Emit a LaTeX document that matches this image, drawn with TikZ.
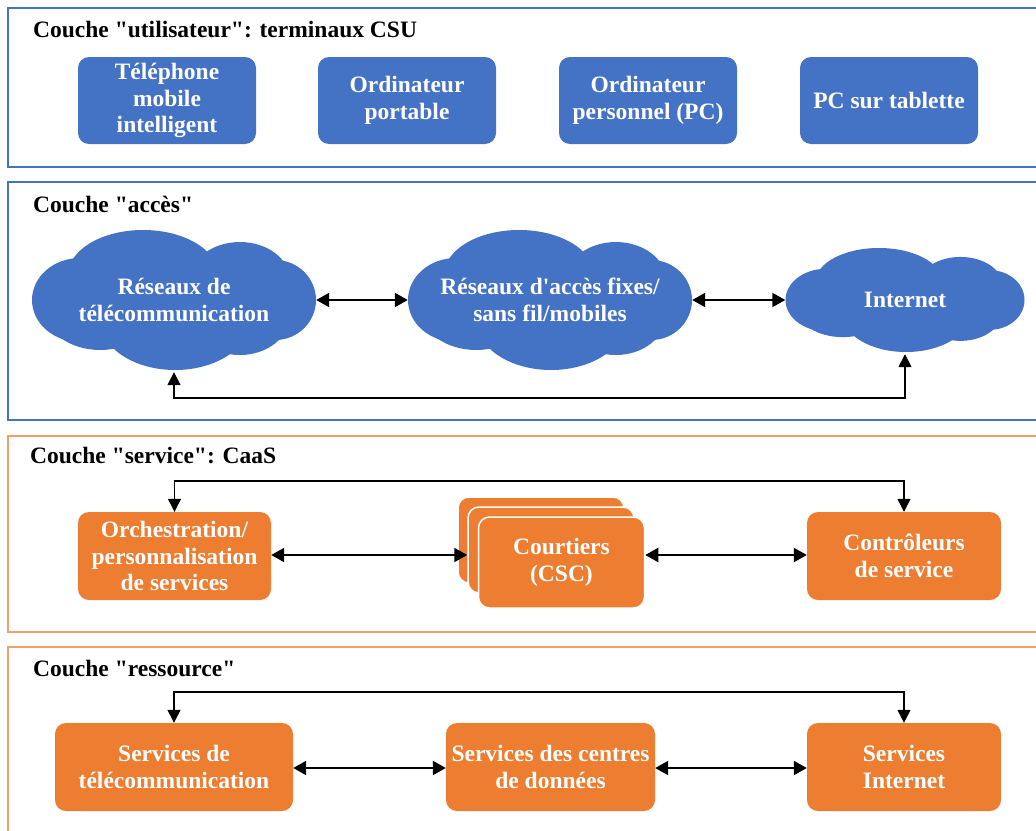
\documentclass[tikz,border=0pt]{standalone}
\usepackage{fontspec}
\setmainfont{Liberation Serif}[Ligatures=TeXOff]
\usetikzlibrary{arrows.meta,calc}
\definecolor{cblue}{HTML}{4472C4}
\definecolor{corange}{HTML}{ED7D31}
\definecolor{cframeo}{HTML}{F2A06A}
\tikzset{
  frameb/.style={draw=cblue,line width=1.5pt},
  frameo/.style={draw=cframeo,line width=1.5pt},
  layertitle/.style={anchor=base west,inner sep=0pt,font=\fontsize{23.5}{26}\selectfont\bfseries},
  boxtxt/.style={align=center,text=white,font=\fontsize{23.5}{26.5}\selectfont\bfseries,inner sep=0pt},
  bbox/.style={boxtxt,fill=cblue,rounded corners=11pt,minimum width=178pt,minimum height=87pt},
  obox/.style={boxtxt,fill=corange,rounded corners=11pt,minimum height=88pt},
  cldtxt/.style={boxtxt},
  conn/.style={line width=2pt,{Triangle[length=13pt,width=14pt]}-{Triangle[length=13pt,width=14pt]}},
  connthin/.style={line width=1.2pt,{Triangle[length=13pt,width=13pt]}-{Triangle[length=13pt,width=13pt]}},
}
\newcommand{\mycloud}[4]{%
  \begin{scope}[shift={(#1,#2)},x=#3pt,y=-#4pt]
    \fill[cblue] (-0.331,0) ellipse [x radius=0.169, y radius=0.3];
    \fill[cblue] (-0.109,-0.179) ellipse [x radius=0.264, y radius=0.321];
    \fill[cblue] (0.232,-0.143) ellipse [x radius=0.176, y radius=0.271];
    \fill[cblue] (0.356,0) ellipse [x radius=0.144, y radius=0.286];
    \fill[cblue] (0.004,0.143) ellipse [x radius=0.264, y radius=0.357];
    \fill[cblue] (0.232,0.107) ellipse [x radius=0.176, y radius=0.286];
    \fill[cblue] (-0.26,0.071) ellipse [x radius=0.194, y radius=0.286];
    \fill[cblue] (0,0) ellipse [x radius=0.387, y radius=0.357];
  \end{scope}}
\begin{document}
\begin{tikzpicture}[x=1pt,y=-1pt]
\useasboundingbox (0,0) rectangle (1036,830);
% frames
\begin{scope}
\clip (0,0) rectangle (1036,830);
\draw[frameb] (8,8) rectangle (1045,167);
\draw[frameb] (8,182) rectangle (1045,420);
\draw[frameo] (8,436) rectangle (1045,632);
\draw[frameo] (8,647) rectangle (1045,845);
\end{scope}
% titles
\node[layertitle] (t1) at (33,37) {Couche "utilisateur": terminaux CSU};
\node[layertitle] (t2) at (33,212) {Couche "accès"};
\node[layertitle] (t3) at (30,463) {Couche "service": CaaS};
\node[layertitle] (t4) at (33,676) {Couche "ressource"};
% layer 1
\node[bbox] (u1) at (167,100.5) {Téléphone\\mobile\\intelligent};
\node[bbox] (u2) at (407,100.5) {Ordinateur\\portable};
\node[bbox] (u3) at (648,100.5) {Ordinateur\\personnel (PC)};
\node[bbox] (u4) at (889,100.5) {PC sur tablette};
% layer 2
\mycloud{174}{300}{284}{140}
\mycloud{550}{300}{284}{140}
\mycloud{905}{300}{239}{104}
\node[cldtxt,minimum width=284pt,minimum height=140pt] (c1) at (174,300) {Réseaux de\\télécommunication};
\node[cldtxt,minimum width=284pt,minimum height=140pt] (c2) at (550,300) {Réseaux d'accès fixes/\\sans fil/mobiles};
\node[cldtxt,minimum width=239pt,minimum height=104pt] (c3) at (905,300) {Internet};
\draw[conn] (c1.east) -- (c2.west);
\draw[conn] (c2.east) -- (c3.west);
\coordinate (b1) at (174,398);
\coordinate (b2) at (905,398);
\draw[connthin,line width=1.6pt] ([yshift=-2pt]c1.south) -- (b1) -- (b2) -- ([yshift=-2pt]c3.south);
% layer 3
\node[obox,minimum width=193pt] (o) at (174.5,556) {Orchestration/\\personnalisation\\de services};
\node[obox,minimum width=194pt] (cs) at (904,556) {Contrôleurs\\de service};
\node[boxtxt,fill=corange,draw=white,line width=1.5pt,rounded corners=11pt,minimum width=166pt,minimum height=86pt] (cb) at (541,540) {};
\node[boxtxt,fill=corange,draw=white,line width=1.5pt,rounded corners=11pt,minimum width=166pt,minimum height=86pt] (cm) at (551,550) {};
\node[boxtxt,fill=corange,draw=white,line width=1.5pt,rounded corners=11pt,minimum width=166pt,minimum height=91pt] (cf) at (561.5,562.5) {Courtiers\\(CSC)};
\draw[conn] (o.east |- 0,555) -- (cm.west |- 0,555);
\draw[conn] (cf.east |- 0,555) -- (cs.west |- 0,555);
\coordinate (s1) at (174.5,481);
\coordinate (s2) at (904,481);
\draw[connthin] (o.north) -- (s1) -- (s2) -- (cs.north);
% layer 4
\node[obox,minimum width=238pt] (r1) at (174,767) {Services de\\télécommunication};
\node[obox,minimum width=209pt] (r2) at (550.5,767) {Services des centres\\de données};
\node[obox,minimum width=194pt] (r3) at (904,767) {Services\\Internet};
\draw[conn] (r1.east |- 0,768) -- (r2.west |- 0,768);
\draw[conn] (r2.east |- 0,768) -- (r3.west |- 0,768);
\coordinate (q1) at (174,692);
\coordinate (q2) at (904,692);
\draw[connthin] (r1.north) -- (q1) -- (q2) -- (r3.north);
\end{tikzpicture}
\end{document}
